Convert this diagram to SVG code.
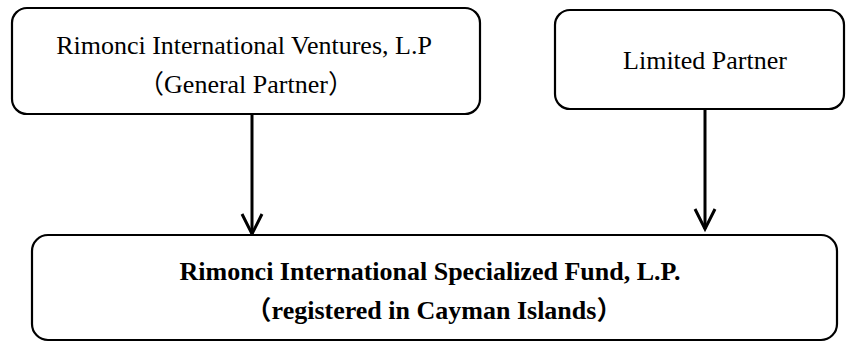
<svg xmlns="http://www.w3.org/2000/svg" width="846" height="343" viewBox="0 0 846 343">
<style>
.box{fill:#fff;stroke:#000;stroke-width:2.2}
.t{font-family:"Liberation Serif","Noto Sans CJK SC",serif;font-size:26px;fill:#000;text-anchor:middle}
.b{font-weight:bold}
.conn{stroke:#000;stroke-width:3;fill:none}
</style>
<defs>
<marker id="arr" markerUnits="userSpaceOnUse" markerWidth="30" markerHeight="30" refX="0" refY="0" orient="auto" overflow="visible">
<path d="M -20 -10 L 0 0 L -20 10" fill="none" stroke="#000" stroke-width="3"/>
</marker>
</defs>
<rect width="846" height="343" fill="#fff"/>
<g id="connectors">
<line class="conn" x1="252" y1="114" x2="252" y2="234" marker-end="url(#arr)"/>
<line class="conn" x1="705" y1="109" x2="705" y2="229" marker-end="url(#arr)"/>
</g>
<g id="general-partner">
<rect class="box" x="12" y="8" width="468" height="106" rx="15"/>
<text class="t" x="244" y="54">Rimonci International Ventures, L.P</text>
<text class="t" x="246" y="93">（General Partner）</text>
</g>
<g id="limited-partner">
<rect class="box" x="555" y="10" width="289" height="99" rx="15"/>
<text class="t" x="705" y="69">Limited Partner</text>
</g>
<g id="fund">
<rect class="box" x="32" y="235" width="805" height="105" rx="16"/>
<text class="t b" x="430" y="280">Rimonci International Specialized Fund, L.P.</text>
<text class="t b" x="434" y="319">（registered in Cayman Islands）</text>
</g>
</svg>
